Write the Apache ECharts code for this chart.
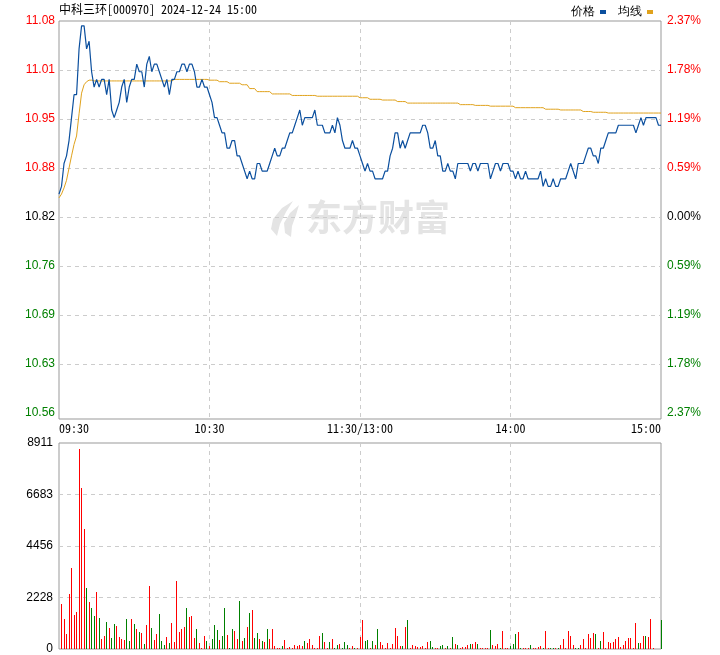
<!DOCTYPE html>
<html><head><meta charset="utf-8">
<script src="https://cdn.jsdelivr.net/npm/echarts@6/dist/echarts.min.js"></script>
<style>html,body{margin:0;padding:0;background:#fff}#c{width:720px;height:655px}</style>
</head><body><div id="c"></div>
<script>
const chartTitle = '中科三环[000970] 2024-12-24 15:00';
const seriesNames = ['价格', '均线'];
const priceTickLabels = ['10.56','10.63','10.69','10.76','10.82','10.88','10.95','11.01','11.08'];
const pctTickLabels = ['2.37%','1.78%','1.19%','0.59%','0.00%','0.59%','1.19%','1.78%','2.37%'];
const volTickLabels = ['0','2228','4456','6683','8911'];
const timeTickLabels = ['09:30','10:30','11:30/13:00','14:00','15:00'];
const priceMin = 10.5636, priceMax = 11.0764, priceStep = 0.0641;
const volMax = 8911;

const price = [
10.85,10.86,10.89,10.90,10.92,10.95,10.98,10.98,11.04,11.07,
11.07,11.04,11.05,11.01,10.99,11.00,10.99,11.00,11.00,10.98,
11.00,10.96,10.95,10.96,10.97,10.99,11.00,10.97,10.99,11.00,
11.00,11.02,11.01,11.01,10.99,11.02,11.03,11.01,11.02,11.02,
11.01,11.00,10.99,11.00,10.98,11.00,11.00,11.01,11.01,11.02,
11.02,11.01,11.02,11.02,11.01,10.99,10.99,11.00,10.99,10.99,
10.98,10.97,10.95,10.95,10.94,10.93,10.93,10.91,10.91,10.92,
10.92,10.90,10.90,10.89,10.88,10.87,10.88,10.87,10.87,10.89,
10.89,10.88,10.88,10.88,10.89,10.90,10.91,10.90,10.90,10.91,
10.91,10.92,10.93,10.93,10.94,10.95,10.96,10.94,10.95,10.95,
10.95,10.95,10.96,10.94,10.94,10.94,10.93,10.93,10.93,10.94,
10.93,10.95,10.94,10.92,10.91,10.91,10.91,10.92,10.91,10.91,
10.90,10.89,10.88,10.89,10.88,10.88,10.87,10.87,10.87,10.87,
10.88,10.88,10.90,10.91,10.93,10.93,10.91,10.92,10.91,10.92,
10.93,10.93,10.93,10.93,10.93,10.94,10.94,10.93,10.91,10.91,
10.92,10.90,10.90,10.88,10.88,10.89,10.88,10.88,10.87,10.89,
10.89,10.89,10.89,10.89,10.88,10.89,10.89,10.88,10.89,10.89,
10.89,10.89,10.87,10.88,10.89,10.89,10.88,10.89,10.89,10.89,
10.88,10.88,10.87,10.88,10.87,10.87,10.88,10.87,10.87,10.87,
10.87,10.87,10.88,10.86,10.87,10.86,10.86,10.87,10.86,10.86,
10.87,10.87,10.87,10.88,10.89,10.88,10.87,10.89,10.89,10.89,
10.90,10.91,10.91,10.90,10.90,10.89,10.91,10.91,10.92,10.93,
10.93,10.93,10.93,10.94,10.94,10.94,10.94,10.94,10.94,10.94,
10.93,10.94,10.95,10.94,10.95,10.95,10.95,10.95,10.95,10.94,
10.94
];

const avgPrice = [
10.845,10.850,10.858,10.868,10.884,10.900,10.915,10.926,10.955,10.982,
10.993,10.997,10.999,10.999,10.998,10.998,10.998,10.998,10.998,10.998,
10.998,10.998,10.998,10.998,10.998,10.998,10.998,10.998,10.998,10.998,
10.998,10.998,10.998,10.998,10.998,10.998,10.998,10.998,10.998,10.998,
10.998,10.998,10.998,10.998,10.998,10.998,11.000,11.000,11.000,11.000,
11.000,11.000,11.000,11.000,11.000,11.000,11.000,11.000,11.000,11.000,
10.999,10.999,10.999,10.999,10.997,10.997,10.997,10.997,10.995,10.995,
10.995,10.995,10.995,10.993,10.993,10.993,10.988,10.988,10.988,10.984,
10.984,10.984,10.984,10.984,10.984,10.981,10.981,10.981,10.981,10.981,
10.981,10.981,10.981,10.979,10.979,10.979,10.979,10.979,10.979,10.979,
10.979,10.979,10.979,10.978,10.978,10.978,10.978,10.978,10.978,10.978,
10.978,10.978,10.978,10.978,10.978,10.978,10.978,10.978,10.978,10.978,
10.976,10.976,10.976,10.976,10.974,10.974,10.974,10.974,10.974,10.973,
10.973,10.973,10.973,10.973,10.973,10.971,10.971,10.971,10.971,10.969,
10.969,10.969,10.969,10.969,10.969,10.969,10.969,10.969,10.969,10.969,
10.969,10.969,10.969,10.969,10.969,10.969,10.969,10.969,10.969,10.969,
10.967,10.967,10.967,10.967,10.967,10.967,10.966,10.966,10.966,10.966,
10.966,10.966,10.965,10.965,10.965,10.965,10.965,10.965,10.965,10.965,
10.965,10.965,10.963,10.963,10.963,10.963,10.963,10.963,10.963,10.963,
10.963,10.963,10.963,10.963,10.961,10.961,10.961,10.961,10.961,10.961,
10.960,10.960,10.960,10.960,10.960,10.960,10.960,10.960,10.960,10.958,
10.958,10.958,10.958,10.957,10.957,10.957,10.957,10.957,10.957,10.956,
10.956,10.956,10.956,10.956,10.956,10.956,10.956,10.956,10.956,10.956,
10.956,10.956,10.956,10.956,10.956,10.956,10.956,10.956,10.956,10.956,
10.956
];

const volume = [
0,1961,1312,663,2394,3518,1485,1615,8666,6979,
5206,2653,2048,1788,1442,2480,1355,447,577,1182,
923,490,1096,1009,534,447,404,1312,360,1312,
1096,880,750,707,231,1053,2740,923,404,663,
1529,360,187,534,274,1139,317,2956,750,880,
966,1788,1399,1442,490,880,274,58,577,360,
144,447,1053,836,404,577,1788,620,58,880,
793,447,2091,360,490,966,1572,1702,490,707,
447,360,317,880,447,880,144,58,58,144,
404,58,101,58,187,144,187,144,360,274,
447,187,58,58,577,707,317,58,317,447,
58,187,231,58,317,187,58,144,58,58,
534,1269,360,404,58,360,187,880,317,187,
58,274,58,231,923,577,144,144,966,1269,
58,187,144,101,101,144,58,317,360,101,
58,58,144,187,58,144,58,534,231,187,
58,101,101,187,231,231,317,231,58,58,
58,58,836,187,144,231,58,793,58,58,
144,231,663,750,58,58,58,58,187,58,
58,101,144,58,793,58,58,58,58,58,
187,447,58,793,577,187,58,58,187,447,
58,663,490,707,663,58,360,750,58,317,
274,317,447,534,101,187,360,490,490,58,
1139,274,274,577,577,534,1315,58,0,0,
1269
];

// r = up (red), g = down (green), one letter per minute
const volDir = [
'rrrrrrrrrr','rgrggrgrrg','rggrrrrggr','grgrgrrgrr','gggrgrrrrr',
'rgrrrgrrrg','rgggrggrgg','rrgrgrgrgg','rgrgrrrrrg','rrrrrrrrgr',
'rrrrrgrrgr','ggrgggrrgr','rrggrgrgrr','rrrrrrrgrg','rrrrrrrrgg',
'rrggrgrgrg','rrrrgrrgrr','rrgrrrgrrr','gggrgrrrgr','rrrgrrggrg',
'rrrrrrggrr','rrrrgrgrrr','rrrrrrrrrr','rgrrgrrrrr','g'
].join('');

const UP = '#ff0000', DOWN = '#008000', FLAT = '#000000';
const GRID_C = '#cccccc', BORDER_C = '#999999';
const FONT = '"Liberation Sans", Arial, sans-serif';
const MONO = '"Noto Sans Mono CJK SC", "Liberation Mono", monospace';

const pricePts = price.map((p, i) => [i, p]);
const avgPts = avgPrice.map((p, i) => [i, p]);
const volPts = volume.map((v, i) => [i, v]);

function sideColor(idx) { return idx < 4 ? DOWN : (idx === 4 ? FLAT : UP); }

const dashed = { show: true, showMinLine: false, showMaxLine: false, lineStyle: { color: GRID_C, type: [4, 4], width: 1 } };

function renderVolBar(params, api) {
  const i = api.value(0), v = api.value(1);
  if (!(v > 0)) return null;
  const top = api.coord([i, v]);
  const base = api.coord([i, 0]);
  const x = Math.round(top[0] - 0.5);
  const y = Math.round(top[1]);
  return {
    type: 'rect',
    shape: { x: x, y: y, width: 1, height: Math.round(base[1]) - y },
    style: { fill: volDir[params.dataIndex] === 'g' ? DOWN : UP }
  };
}

const chart = echarts.init(document.getElementById('c'), null, { renderer: 'canvas', width: 720, height: 655 });
chart.setOption({
  animation: false,
  backgroundColor: '#ffffff',
  legend: {
    data: seriesNames, right: 62, top: 1, align: 'right', icon: 'rect',
    itemWidth: 6, itemHeight: 4, itemGap: 12,
    textStyle: { fontSize: 12, color: '#000', fontFamily: FONT }
  },
  graphic: [
    { type: 'text', left: 59, top: 3, z: 10, style: { text: chartTitle, fontSize: 12, fill: '#000', fontFamily: MONO } },
    { type: 'polygon', z: -1, silent: true, shape: { points: [[293,201],[282,208],[273,219],[271,229],[277,236],[280,224],[286,212]] }, style: { fill: '#e4e4e4' } },
    { type: 'polygon', z: -1, silent: true, shape: { points: [[299,205],[290,213],[284,223],[285,233],[291,237],[292,226],[296,215]] }, style: { fill: '#e4e4e4' } },
    { type: 'text', z: -1, silent: true, left: 306, top: 199, style: { text: '东方财富', fontSize: 36, fontWeight: 'bold', fill: '#e4e4e4', fontFamily: '"Noto Sans CJK SC", sans-serif' } }
  ],
  grid: [
    { left: 59, right: 59, top: 21, height: 392 },
    { left: 59, right: 59, top: 21, height: 398, show: true, borderColor: BORDER_C, borderWidth: 1, backgroundColor: 'transparent' },
    { left: 59, right: 59, top: 443, height: 206, show: true, borderColor: BORDER_C, borderWidth: 1, backgroundColor: 'transparent' }
  ],
  xAxis: [
    { gridIndex: 0, type: 'value', min: 0, max: 240, show: false },
    { gridIndex: 1, type: 'value', min: 0, max: 240, interval: 60,
      axisLine: { show: false }, axisTick: { show: false }, splitLine: dashed,
      axisLabel: { show: true, margin: 3, fontSize: 12, color: '#000', fontFamily: MONO,
        alignMinLabel: 'left', alignMaxLabel: 'right', showMinLabel: true, showMaxLabel: true,
        formatter: v => timeTickLabels[Math.round(v / 60)] } },
    { gridIndex: 2, type: 'value', min: 0, max: 240, interval: 60,
      axisLine: { show: false }, axisTick: { show: false }, splitLine: dashed, axisLabel: { show: false } }
  ],
  yAxis: [
    { gridIndex: 0, type: 'value', position: 'left', min: priceMin, max: priceMax, interval: priceStep,
      axisLine: { show: false }, axisTick: { show: false }, splitLine: dashed,
      axisLabel: { margin: 4, fontSize: 12, fontFamily: FONT, showMinLabel: true, showMaxLabel: true,
        formatter: (v) => priceTickLabels[Math.round((v - priceMin) / priceStep)],
        color: (v) => sideColor(Math.round((v - priceMin) / priceStep)) } },
    { gridIndex: 0, type: 'value', position: 'right', min: priceMin, max: priceMax, interval: priceStep,
      axisLine: { show: false }, axisTick: { show: false }, splitLine: { show: false },
      axisLabel: { margin: 6, fontSize: 12, fontFamily: FONT, showMinLabel: true, showMaxLabel: true,
        formatter: (v) => pctTickLabels[Math.round((v - priceMin) / priceStep)],
        color: (v) => sideColor(Math.round((v - priceMin) / priceStep)) } },
    { gridIndex: 1, type: 'value', min: 0, max: 1, show: false },
    { gridIndex: 2, type: 'value', min: 0, max: volMax, interval: volMax / 4,
      axisLine: { show: false }, axisTick: { show: false }, splitLine: dashed,
      axisLabel: { margin: 6, fontSize: 12, color: '#000', fontFamily: FONT, showMinLabel: true, showMaxLabel: true,
        formatter: v => volTickLabels[Math.round(v / (volMax / 4))] } }
  ],
  series: [
    { name: seriesNames[0], type: 'line', xAxisIndex: 0, yAxisIndex: 0, data: pricePts, showSymbol: false, symbol: 'none',
      lineStyle: { color: '#0b4f9e', width: 1.2 }, itemStyle: { color: '#0b4f9e' }, z: 5 },
    { name: seriesNames[1], type: 'line', xAxisIndex: 0, yAxisIndex: 0, data: avgPts, showSymbol: false, symbol: 'none',
      lineStyle: { color: '#e0a21c', width: 1 }, itemStyle: { color: '#e0a21c' }, z: 4 },
    { type: 'custom', xAxisIndex: 2, yAxisIndex: 3, data: volPts, renderItem: renderVolBar, encode: { x: 0, y: 1 }, z: 3 }
  ]
});
</script></body></html>
